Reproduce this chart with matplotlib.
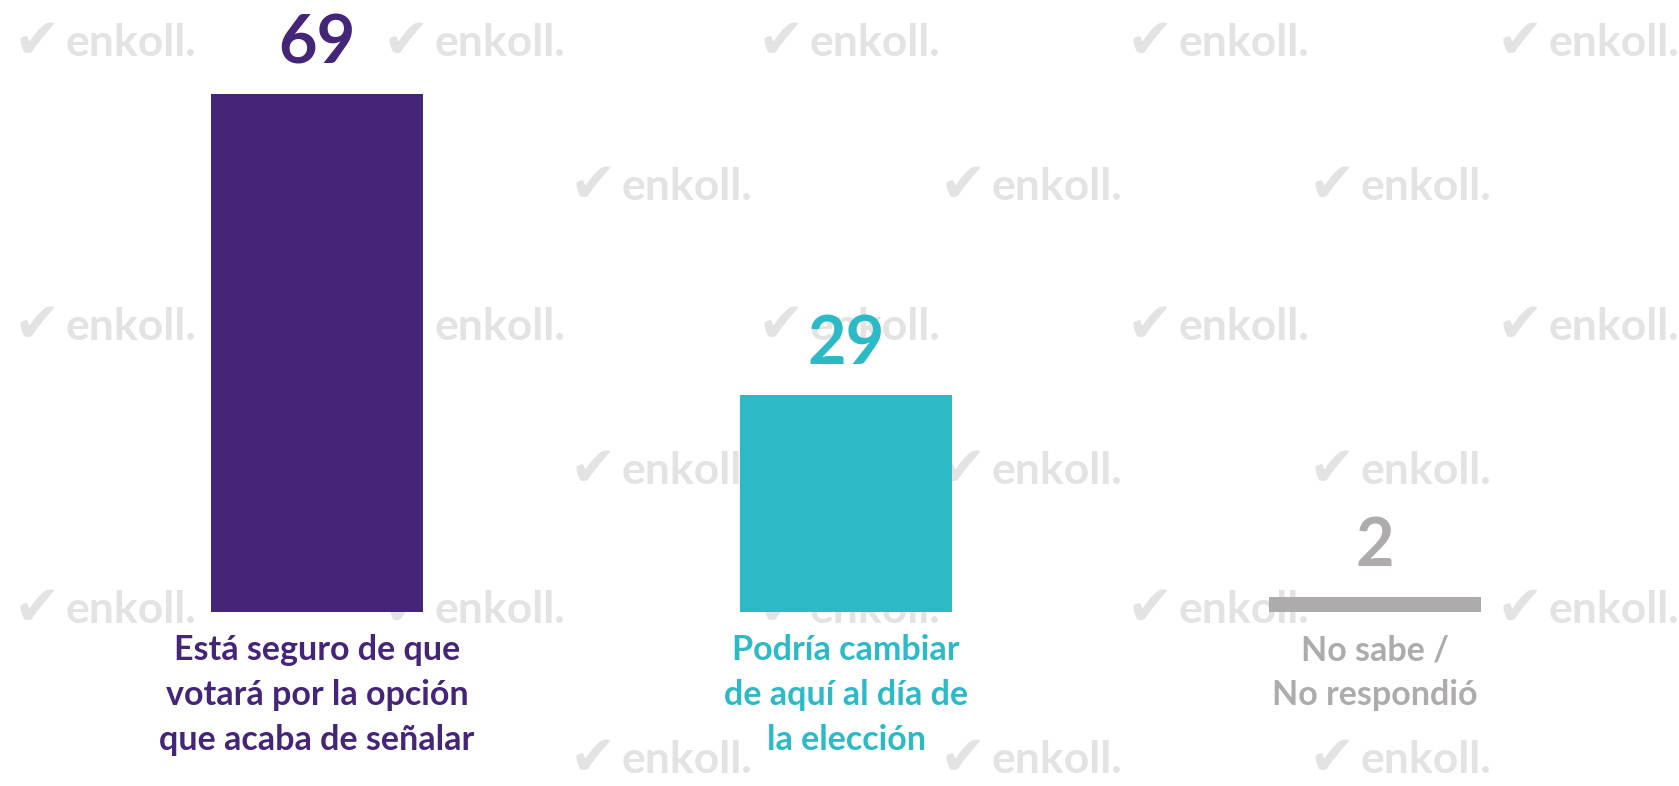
import matplotlib
matplotlib.use("Agg")
import matplotlib.pyplot as plt

# data
categories = ["Está seguro de que\nvotará por la opción\nque acaba de señalar",
              "Podría cambiar\nde aquí al día de\nla elección",
              "No sabe /\nNo respondió"]
values = [69, 29, 2]
colors = ["#442577", "#2CBAC6", "#ADABAB"]

W, H = 1679, 786
fig = plt.figure(figsize=(W / 100, H / 100), dpi=100)

# background watermarks (figure pixel positions)
wm_rows = [
    (43, [11, 380, 755, 1124, 1494]),
    (187, [567, 937, 1306]),
    (327, [11, 380, 755, 1124, 1494]),
    (471, [567, 937, 1306]),
    (610, [11, 380, 755, 1124, 1494]),
    (760, [567, 937, 1306]),
]
for y, xs in wm_rows:
    for x in xs:
        fig.text((x + 55) / W, 1 - y / H, "enkoll.", color="#E3E3E3",
                 fontsize=32, fontweight="bold", family="Lato",
                 ha="left", va="center", zorder=0)
        fig.text((x + 26) / W, 1 - y / H, "✔", color="#E3E3E3",
                 fontsize=40, family="DejaVu Sans",
                 ha="center", va="center", zorder=0)

# axes: baseline at y=612px, 7.5 px per unit; bar centers at 317, 846, 1375 px
base = 612
ax = fig.add_axes([0, (H - base) / H, 1, base / H])
ax.set_zorder(2)
ax.patch.set_alpha(0)
spacing = 529
ax.set_xlim(-317 / spacing, 2 + (W - 1375) / spacing)
ax.set_ylim(0, base / 7.5)
ax.axis("off")

xpos = range(len(values))
bars = ax.bar(xpos, values, width=212 / spacing, color=colors, zorder=2)

for b, v, c in zip(bars, values, colors):
    ax.annotate(str(v), (b.get_x() + b.get_width() / 2, v),
                xytext=(0, 22), textcoords="offset points",
                ha="center", va="baseline", fontsize=48, fontweight="bold",
                family="Lato", color=c)

for i, (lab, c) in enumerate(zip(categories, colors)):
    ax.annotate(lab, (i, 0), xytext=(0, -16), textcoords="offset points",
                ha="center", va="top", fontsize=24.5, fontweight="bold",
                family="Lato", color=c, linespacing=1.5,
                annotation_clip=False)

fig.savefig("out.png", dpi=100)
